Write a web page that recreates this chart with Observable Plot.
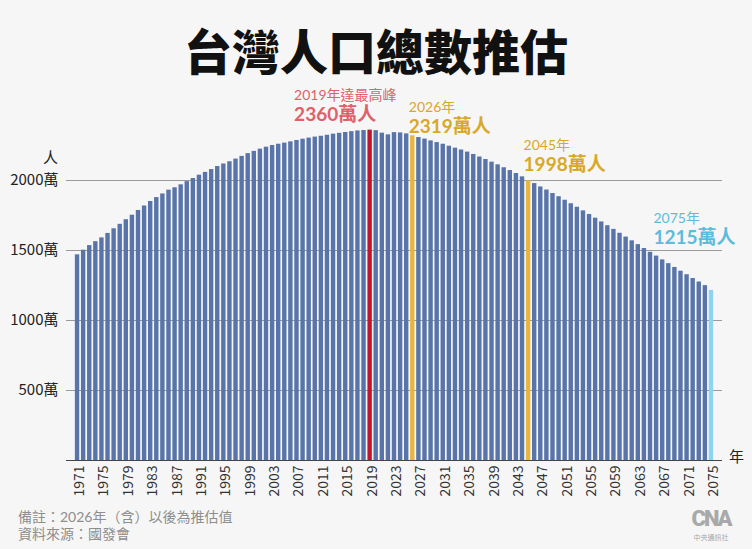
<!DOCTYPE html>
<html>
<head>
<meta charset="utf-8">
<script src="https://cdn.jsdelivr.net/npm/d3@7"></script>
<script src="https://cdn.jsdelivr.net/npm/@observablehq/plot@0.6"></script>
<style>
  html, body { margin: 0; padding: 0; background: #f6f6f6; }
  body { width: 752px; height: 549px; position: relative; overflow: hidden;
         font-family: "Noto Sans CJK TC", "Noto Sans", sans-serif; }
  #title { position: absolute; left: 0; top: 2px; width: 752px; height: 100px; text-align: center;
           font-family: Lato, "Noto Sans CJK TC", sans-serif;
           font-size: 48px; font-weight: 900; line-height: 100px; color: #111; }
  #chart { position: absolute; left: 0; top: 80px; }
  #footer { position: absolute; left: 18px; top: 508px; font-size: 14px; line-height: 17px; color: #8e8e8e;
            font-family: Lato, "Noto Sans CJK TC", sans-serif; }
  #logo { position: absolute; left: 686px; top: 505px; }
</style>
</head>
<body>
<div id="title">台灣人口總數推估</div>
<div id="chart"></div>
<div id="footer">備註：2026年（含）以後為推估值<br>資料來源：國發會</div>
<svg id="logo" width="52" height="38" viewBox="0 0 52 38">
  <text x="25" y="21" text-anchor="middle" font-family="Roboto, sans-serif" font-weight="900" font-size="22" fill="#a9a9a9" letter-spacing="-2">CNA</text>
  <text x="25" y="35" text-anchor="middle" font-family="Noto Sans CJK TC, sans-serif" font-size="7" fill="#a9a9a9">中央通訊社</text>
</svg>
<script>
// ---- data (萬人) ----
const years = d3.range(1971, 2076);
const population = [
  1469, 1502, 1535, 1563, 1590, 1622, 1655, 1687, 1720, 1752, // 1971-1980
  1786, 1818, 1850, 1878, 1904, 1931, 1948, 1969, 1992, 2014, // 1981-1990
  2038, 2058, 2078, 2100, 2118, 2134, 2153, 2172, 2192, 2208, // 1991-2000
  2224, 2238, 2250, 2259, 2267, 2276, 2286, 2295, 2303, 2310, // 2001-2010
  2316, 2323, 2331, 2337, 2343, 2349, 2354, 2357, 2360, 2356, // 2011-2020
  2338, 2326, 2342, 2340, 2333, 2319, 2307, 2296, 2283, 2271, // 2021-2030
  2259, 2245, 2231, 2218, 2203, 2186, 2168, 2150, 2131, 2112, // 2031-2040
  2091, 2071, 2050, 2026, 1998, 1978, 1954, 1932, 1907, 1884, // 2041-2050
  1859, 1834, 1809, 1783, 1757, 1731, 1704, 1677, 1651, 1623, // 2051-2060
  1596, 1569, 1542, 1514, 1487, 1460, 1433, 1406, 1379, 1352, // 2061-2070
  1327, 1300, 1275, 1249, 1215                                // 2071-2075
];
const tickYears = years.filter(y => (y - 1971) % 4 === 0);
const yTicks = [500, 1000, 1500, 2000];
const annoYears = [2019, 2026, 2045, 2075];
const annoTitles = ["2019年達最高峰", "2026年", "2045年", "2075年"];
const annoValues = [2360, 2319, 1998, 1215];

// ---- styling ----
const barBlue = "#5874a9";
const highlightColors = {2019: "#c0142f", 2026: "#e6b63e", 2045: "#e6b63e", 2075: "#8dd5ee"};
const annoColors = ["#e0606a", "#d9a826", "#d9a826", "#5cbcdc"];
const annoOffsets = [
  {dx: -76, dy1: -35, dy2: -15},
  {dx: -4,  dy1: -28, dy2: -9},
  {dx: -5,  dy1: -35.5, dy2: -15.5},
  {dx: -58, dy1: -72, dy2: -52}
];
const annoFont = "Lato, 'Noto Sans CJK TC', sans-serif";

const table = years.map((year, i) => ({year, value: population[i]}));

const annoMarks = [];
annoYears.forEach((yr, i) => {
  const d = [{year: yr, value: annoValues[i], title: annoTitles[i], big: annoValues[i] + "萬人"}];
  const o = annoOffsets[i];
  annoMarks.push(Plot.text(d, {x: "year", y: "value", text: "title", textAnchor: "start", fontFamily: annoFont,
    lineAnchor: "middle", dx: o.dx, dy: o.dy1, fill: annoColors[i], fontSize: 14}));
  annoMarks.push(Plot.text(d, {x: "year", y: "value", text: "big", textAnchor: "start", fontFamily: annoFont,
    lineAnchor: "middle", dx: o.dx, dy: o.dy2, fill: annoColors[i], fontSize: 19, fontWeight: "bold"}));
});

const chart = Plot.plot({
  width: 752,
  height: 430,
  marginLeft: 74,
  marginRight: 38,
  marginTop: 16,
  marginBottom: 50,
  style: {background: "transparent", fontFamily: "'Noto Sans CJK TC', sans-serif", color: "#333", overflow: "visible"},
  x: {type: "band", domain: years, paddingInner: 0.28, paddingOuter: 0.14, round: false},
  y: {domain: [0, 2600]},
  color: {type: "identity"},
  marks: [
    Plot.ruleY(yTicks, {stroke: "#9a9a9a", strokeWidth: 1, insetLeft: -8, insetRight: -8}),
    Plot.barY(table, {x: "year", y: "value", fill: d => highlightColors[d.year] || barBlue}),
    Plot.ruleY([0], {stroke: "#444", strokeWidth: 1.2, insetLeft: -8, insetRight: -8}),
    Plot.axisX({ticks: tickYears, tickFormat: d => String(d), tickRotate: -90, tickSize: 0, tickPadding: 5,
      dx: 2, fontSize: 14, label: null, fill: "#333"}),
    Plot.axisY({ticks: yTicks, tickSize: 0, tickPadding: 16, tickFormat: d => d + "萬", fontSize: 15, label: null, fill: "#222"}),
    Plot.text(["人"], {y: [2157], text: d => d, frameAnchor: "left", dx: -24, fontSize: 15, fill: "#222", textAnchor: "middle"}),
    Plot.text(["年"], {y: [0], text: d => d, frameAnchor: "right", dx: 22, dy: -3, fontSize: 15, fill: "#222", textAnchor: "middle"}),
    ...annoMarks
  ]
});
document.getElementById("chart").appendChild(chart);
</script>
</body>
</html>
